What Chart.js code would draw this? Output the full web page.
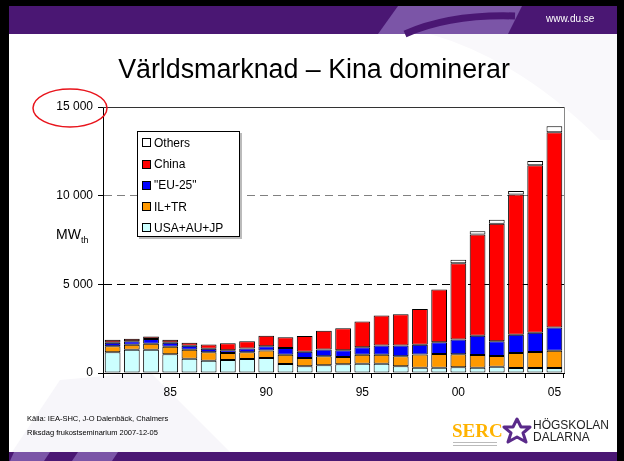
<!DOCTYPE html>
<html>
<head>
<meta charset="utf-8">
<script src="https://cdn.jsdelivr.net/npm/chart.js@4.4.1/dist/chart.umd.min.js"></script>
<style>
  body { margin: 0; background: #000; }
  #slide { position: relative; width: 624px; height: 461px; overflow: hidden; background: #000;
           font-family: "Liberation Sans", Arial, sans-serif; }
  #slide .abs { position: absolute; white-space: nowrap; }
  #legend { position: absolute; left: 137px; top: 131px; width: 103px; height: 106px;
            background: #fff; border: 1px solid #000; box-sizing: border-box;
            box-shadow: 2px 2px 0 #bbb; font-size: 12px; }
  #legend .row { position: absolute; left: 4px; height: 14px; line-height: 14px; }
  #legend .sw { display: inline-block; width: 7px; height: 7px; border: 1px solid #000;
                vertical-align: middle; margin-right: 3px; margin-top: -2px; }
</style>
</head>
<body>
<div id="slide">
  <svg class="abs" width="624" height="461" style="left:0;top:0">
    <rect x="9" y="6" width="608" height="455" fill="#fff"/>
    <!-- faint watermark -->
    <path d="M12 452 L60 380 L150 372 L230 452 Z" fill="#f7f6fa"/>
    <path d="M430 34 Q520 60 600 140 L617 140 L617 34 Z" fill="#f9f8fb"/>
    <!-- top band -->
    <rect x="9" y="6" width="608" height="28" fill="#4a1773"/>
    <path d="M378 34 L398 6 L522 6 L508 34 Z" fill="#7b55a7"/>
    <path d="M405 34 Q450 14 515 16" stroke="#4a1773" stroke-width="7" fill="none"/>
    <!-- bottom band -->
    <rect x="9" y="452" width="608" height="9" fill="#4a1773"/>
    <path d="M14 452 L50 452 L44 461 L10 461 Z" fill="#7b55a7"/>
    <path d="M78 452 L118 452 L112 461 L72 461 Z" fill="#7b55a7"/>
    <!-- logo star -->
    <path d="M517 419 L521 427 L530 427 L523 433 L526 442 L517 437 L508 442 L511 433 L504 427 L513 427 Z"
          fill="none" stroke="#5a2a8a" stroke-width="3" stroke-linejoin="round"/>
    <rect x="453" y="442" width="44" height="1" fill="#bbb"/>
    <rect x="453" y="445" width="44" height="1" fill="#bbb"/>
  </svg>

  <canvas id="mwChart" width="624" height="461" class="abs" style="left:0;top:0"></canvas>

  <div class="abs" style="left:0;width:628px;top:54px;text-align:center;font-size:26.8px;color:#000">Världsmarknad – Kina dominerar</div>
  <div class="abs" style="left:546px;top:13px;font-size:10px;color:#fff">www.du.se</div>
  <div class="abs" style="left:56px;top:226px;font-size:14px;color:#000">MW<sub style="font-size:9px">th</sub></div>
  <div id="legend"></div>
  <div class="abs" style="left:27px;top:414px;font-size:7.5px;color:#000">Källa: IEA-SHC, J-O Dalenbäck, Chalmers</div>
  <div class="abs" style="left:27px;top:428px;font-size:7.5px;color:#000">Riksdag frukostseminarium 2007-12-05</div>
  <div class="abs" style="left:452px;top:420px;font-size:19px;font-weight:bold;font-family:'Liberation Serif',serif;color:#ffb300">SERC</div>
  <div class="abs" style="left:533px;top:419px;font-size:12px;line-height:12px;color:#222">HÖGSKOLAN<br>DALARNA</div>

  <svg class="abs" width="624" height="461" style="left:0;top:0">
    <ellipse cx="70" cy="108" rx="37" ry="19" fill="none" stroke="#e8141c" stroke-width="1.5"/>
  </svg>
</div>

<script>
// data, 1982-2005
var years = [1982, 1983, 1984, 1985, 1986, 1987, 1988, 1989, 1990, 1991, 1992, 1993,
             1994, 1995, 1996, 1997, 1998, 1999, 2000, 2001, 2002, 2003, 2004, 2005];
var usaAuJp = [1175, 1310, 1310, 1060, 800, 690, 735, 790, 850, 510, 380, 435,
               490, 525, 525, 380, 300, 300, 320, 300, 355, 280, 280, 280];
var ilTr = [340, 283, 340, 415, 510, 485, 395, 380, 415, 525, 470, 510,
            415, 510, 510, 565, 750, 775, 735, 720, 605, 850, 905, 980];
var eu25 = [190, 200, 265, 225, 225, 190, 150, 210, 245, 380, 355, 380,
            380, 415, 510, 605, 550, 660, 830, 1075, 825, 1020, 1090, 1300];
var china = [170, 135, 150, 170, 170, 245, 395, 410, 585, 605, 885, 1055,
             1245, 1450, 1700, 1770, 2010, 2980, 4310, 5710, 6630, 7910, 9440, 11020];
var others = [null, null, null, null, null, null, null, null, null, null, null, null,
              null, null, null, null, null, null, 190, 190, 225, 205, 245, 340];
var xTickLabels = ["85", "90", "95", "00", "05"];
var yTicks = [0, 5000, 10000, 15000];

// first four China bars are darker in the original
var chinaColors = china.map(function (v, i) { return i < 4 ? "#990000" : "#ff0000"; });

var series = [
  { label: "USA+AU+JP", data: usaAuJp, color: "#ccffff" },
  { label: "IL+TR", data: ilTr, color: "#ff9900" },
  { label: "\"EU-25\"", data: eu25, color: "#0000ff" },
  { label: "China", data: china, color: chinaColors, swatch: "#ff0000" },
  { label: "Others", data: others, color: "#ffffff" },
];

function spaced(v) {
  return String(v).replace(/\B(?=(\d{3})+(?!\d))/g, " ");
}

// frame around the plot area (top + right edges)
var framePlugin = {
  id: "frame",
  beforeDatasetsDraw: function (chart) {
    var a = chart.chartArea, ctx = chart.ctx;
    ctx.save();
    ctx.lineWidth = 1;
    ctx.strokeStyle = "#333";
    ctx.beginPath();
    ctx.moveTo(a.left, Math.round(a.top) + 0.5);
    ctx.lineTo(Math.round(a.right) + 0.5, Math.round(a.top) + 0.5);
    ctx.stroke();
    ctx.strokeStyle = "#888";
    ctx.beginPath();
    ctx.moveTo(Math.round(a.right) + 0.5, a.top);
    ctx.lineTo(Math.round(a.right) + 0.5, a.bottom);
    ctx.stroke();
    ctx.restore();
  },
};

Chart.defaults.font.family = '"Liberation Sans", Arial, sans-serif';
Chart.defaults.color = "#000";

var ctx = document.getElementById("mwChart").getContext("2d");
var mwChart = new Chart(ctx, {
  type: "bar",
  data: {
    labels: years,
    datasets: series.map(function (s) {
      return {
        label: s.label,
        data: s.data,
        backgroundColor: s.color,
        borderColor: "#000",
        borderWidth: 1,
        borderSkipped: false,
        barPercentage: 0.82,
        categoryPercentage: 1,
      };
    }),
  },
  options: {
    responsive: false,
    animation: false,
    devicePixelRatio: 1,
    layout: { padding: { left: 40, right: 60, top: 107, bottom: 58 } },
    plugins: { legend: { display: false }, tooltip: { enabled: false } },
    scales: {
      x: {
        stacked: true,
        afterFit: function (s) { s.height = 30; },
        grid: { offset: true, drawOnChartArea: false, tickLength: 5, color: "#000" },
        border: { color: "#000" },
        ticks: {
          autoSkip: false,
          maxRotation: 0,
          padding: 7,
          font: { size: 12 },
          callback: function (v, i) {
            var t = String(years[i]).slice(2);
            return xTickLabels.indexOf(t) >= 0 ? t : "";
          },
        },
      },
      y: {
        stacked: true,
        min: 0,
        max: 15000,
        afterFit: function (s) { s.width = 63; },
        afterBuildTicks: function (s) {
          s.ticks = yTicks.map(function (v) { return { value: v }; });
        },
        grid: {
          tickLength: 5,
          tickColor: "#000",
          color: function (c) {
            if (!c.tick || c.tick.value === 0) return "rgba(0,0,0,0)";
            return c.tick.value === 10000 ? "#808080" : "#000";
          },
        },
        border: {
          color: "#000",
          dash: function (c) {
            return c.tick && c.tick.value === 15000 ? [] : [8, 5];
          },
        },
        ticks: {
          padding: 5,
          font: { size: 12 },
          callback: function (v) { return spaced(v); },
        },
      },
    },
  },
  plugins: [framePlugin],
});

// legend, top item = top of the stack
var legend = document.getElementById("legend");
series.slice().reverse().forEach(function (s, i) {
  var row = document.createElement("div");
  row.className = "row";
  row.style.top = (4 + i * 21.2) + "px";
  var sw = document.createElement("span");
  sw.className = "sw";
  sw.style.background = s.swatch || s.color;
  row.appendChild(sw);
  row.appendChild(document.createTextNode(s.label));
  legend.appendChild(row);
});
</script>
</body>
</html>
